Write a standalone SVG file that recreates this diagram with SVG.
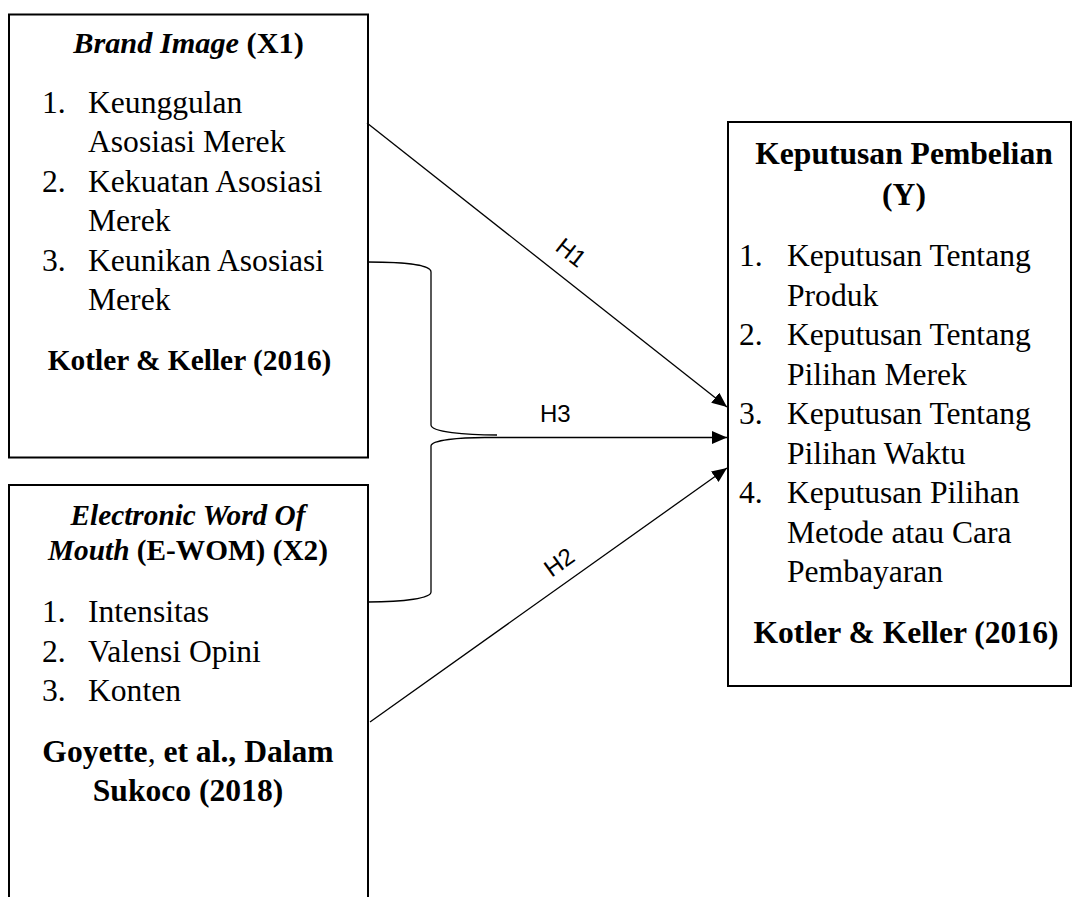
<svg xmlns="http://www.w3.org/2000/svg" width="1072" height="897" viewBox="0 0 1072 897">
<style>
.box{fill:#fff;stroke:#000;stroke-width:2}
.t{font-family:"Liberation Serif","Times New Roman",serif;fill:#000}
.r{font-size:31.6px}
.b{font-weight:bold}
.bi{font-weight:bold;font-style:italic}
.c{text-anchor:middle}
.con{fill:none;stroke:#000;stroke-width:1.3}
.h{font-family:"Liberation Sans",Arial,sans-serif;font-size:24px;fill:#000}
</style>
<defs>
<marker id="arr" markerUnits="userSpaceOnUse" markerWidth="16" markerHeight="14" refX="15" refY="6.5" orient="auto">
<path d="M0,0 L15,6.5 L0,13 z" fill="#000"/>
</marker>
</defs>
<rect width="1072" height="897" fill="#fff"/>
<g id="x1">
<rect class="box" x="9" y="14.5" width="359" height="443"/>
<text class="t c" x="188.5" y="53" font-size="30.3"><tspan class="bi">Brand Image</tspan><tspan class="b"> (X1)</tspan></text>
<g class="t r">
<text x="42" y="112.5">1.</text><text x="88" y="112.5">Keunggulan</text>
<text x="88" y="152">Asosiasi Merek</text>
<text x="42" y="191.5">2.</text><text x="88" y="191.5">Kekuatan Asosiasi</text>
<text x="88" y="231">Merek</text>
<text x="42" y="270.5">3.</text><text x="88" y="270.5">Keunikan Asosiasi</text>
<text x="88" y="310">Merek</text>
</g>
<text class="t b c" x="189.5" y="370" font-size="29.4">Kotler &amp; Keller (2016)</text>
</g>
<g id="x2">
<rect class="box" x="9" y="485" width="359" height="430"/>
<text class="t bi c" x="188" y="525" font-size="29.3">Electronic Word Of</text>
<text class="t c" x="188" y="560" font-size="29.3"><tspan class="bi">Mouth</tspan><tspan class="b"> (E-WOM) (X2)</tspan></text>
<g class="t r">
<text x="42" y="622">1.</text><text x="88" y="622">Intensitas</text>
<text x="42" y="661.5">2.</text><text x="88" y="661.5">Valensi Opini</text>
<text x="42" y="701">3.</text><text x="88" y="701">Konten</text>
</g>
<text class="t r c" x="188" y="762"><tspan class="b">Goyette</tspan>, <tspan class="b">et al., Dalam</tspan></text>
<text class="t r b c" x="188" y="801">Sukoco (2018)</text>
</g>
<g id="y">
<rect class="box" x="728" y="122" width="343" height="564"/>
<text class="t r b c" x="904" y="164">Keputusan Pembelian</text>
<text class="t r b c" x="904" y="205">(Y)</text>
<g class="t r">
<text x="739" y="266">1.</text><text x="787" y="266">Keputusan Tentang</text>
<text x="787" y="305.5">Produk</text>
<text x="739" y="345">2.</text><text x="787" y="345">Keputusan Tentang</text>
<text x="787" y="384.5">Pilihan Merek</text>
<text x="739" y="424">3.</text><text x="787" y="424">Keputusan Tentang</text>
<text x="787" y="463.5">Pilihan Waktu</text>
<text x="739" y="503">4.</text><text x="787" y="503">Keputusan Pilihan</text>
<text x="787" y="542.5">Metode atau Cara</text>
<text x="787" y="582">Pembayaran</text>
</g>
<text class="t r b c" x="906" y="643">Kotler &amp; Keller (2016)</text>
</g>
<g id="connectors">
<path class="con" d="M368,262 C405,262 431,265 431,272 L431,425 C431,432 465,435 497,435"/>
<path class="con" d="M485,437.5 C460,437.5 431,440 431,446 L431,592 C431,598 405,602 368,602"/>
<line class="con" x1="367" y1="123" x2="727" y2="407" marker-end="url(#arr)"/>
<line class="con" x1="485" y1="437.5" x2="727" y2="437.5" marker-end="url(#arr)"/>
<line class="con" x1="370" y1="722" x2="727" y2="468" marker-end="url(#arr)"/>
<text class="h" text-anchor="middle" transform="translate(566,259) rotate(38.3)">H1</text>
<text class="h" x="540" y="422">H3</text>
<text class="h" text-anchor="middle" transform="translate(564,569) rotate(-35.4)">H2</text>
</g>
</svg>
